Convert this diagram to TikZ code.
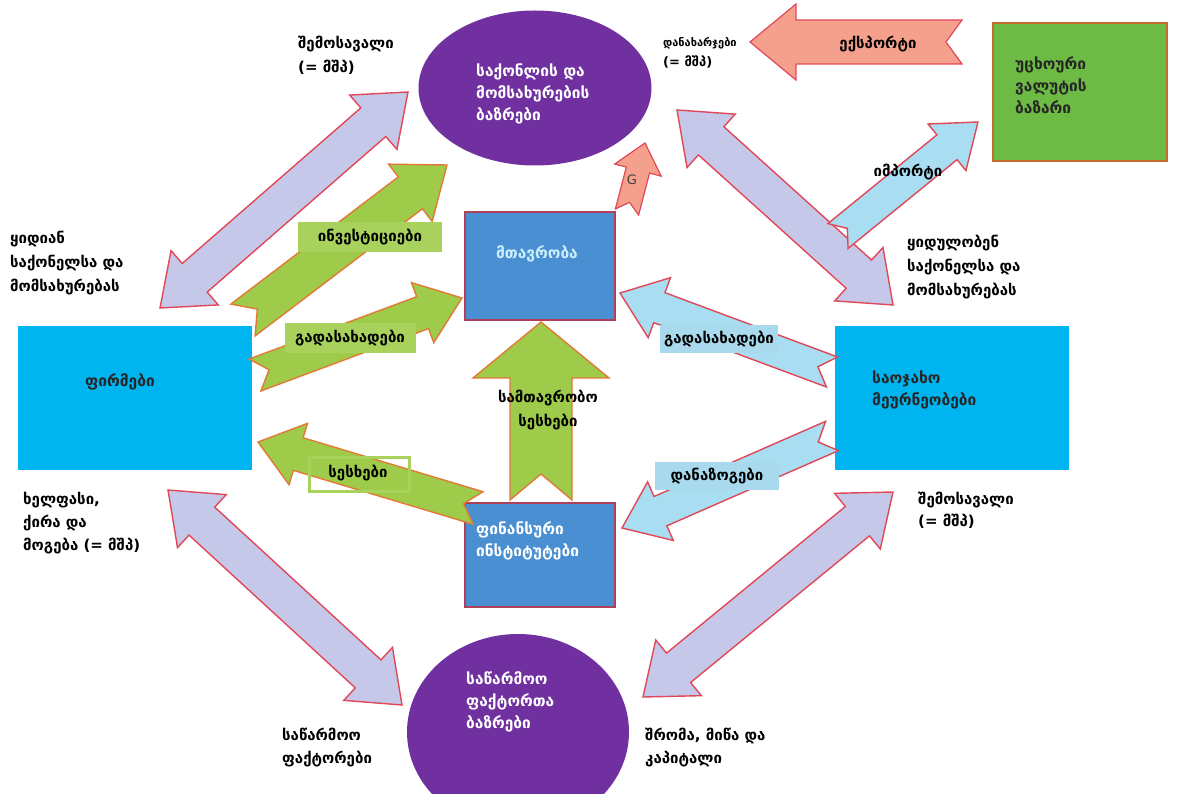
\documentclass[tikz,border=0pt]{standalone}
\usepackage{fontspec}
\setmainfont{DejaVu Sans}
\usetikzlibrary{calc,shapes.geometric}
\definecolor{mpurple}{HTML}{7030A0}
\definecolor{mcyan}{HTML}{00B4F0}
\definecolor{govblue}{HTML}{4A8FD2}
\definecolor{govborder}{HTML}{B0405A}
\definecolor{fxgreen}{HTML}{6DBA45}
\definecolor{fxborder}{HTML}{C46A2A}
\definecolor{argreen}{HTML}{9ECB4A}
\definecolor{arorange}{HTML}{E07A35}
\definecolor{lavender}{HTML}{C6C8EA}
\definecolor{arred}{HTML}{E04858}
\definecolor{lblue}{HTML}{A8DDF2}
\definecolor{salmon}{HTML}{F5A08C}
\definecolor{lbgreen}{HTML}{A8D25C}
\definecolor{lbblue}{HTML}{A9D9EC}
% double block arrow: #1 A, #2 B, #3 shaft half, #4 head half, #5 head length, #6 style
\newcommand\dblarrow[6]{%
  \coordinate (pA) at ($(#1)!#5!(#2)$);
  \coordinate (pB) at ($(#2)!#5!(#1)$);
  \draw[#6] (#1) -- ($(pA)!#4!90:(#2)$) -- ($(pA)!#3!90:(#2)$) -- ($(pB)!#3!-90:(#1)$) -- ($(pB)!#4!-90:(#1)$) -- (#2) -- ($(pB)!#4!90:(#1)$) -- ($(pB)!#3!90:(#1)$) -- ($(pA)!#3!-90:(#2)$) -- ($(pA)!#4!-90:(#2)$) -- cycle;
}
% single block arrow with notched tail: #1 tail, #2 tip, #3 shaft half, #4 head half, #5 head length, #6 notch, #7 style
\newcommand\ribarrow[7]{%
  \coordinate (pB) at ($(#2)!#5!(#1)$);
  \draw[#7] ($(#1)!#3!90:(#2)$) -- ($(pB)!#3!-90:(#1)$) -- ($(pB)!#4!-90:(#1)$) -- (#2) -- ($(pB)!#4!90:(#1)$) -- ($(pB)!#3!90:(#1)$) -- ($(#1)!#3!-90:(#2)$) -- ($(#1)!#6!(#2)$) -- cycle;
}
\tikzset{
  lav/.style={fill=lavender, draw=arred, line width=1.4pt, line join=miter},
  grn/.style={fill=argreen, draw=arorange, line width=1.4pt, line join=miter},
  blu/.style={fill=lblue, draw=arred, line width=1.4pt, line join=miter},
  sal/.style={fill=salmon, draw=arred, line width=1.2pt, line join=miter},
  lbl/.style={font=\fontsize{15}{24}\selectfont\bfseries, align=left, anchor=west, inner sep=0pt, text=black},
  intext/.style={font=\fontsize{15.5}{22}\selectfont\bfseries, align=left, inner sep=0pt},
  tagfont/.style={font=\fontsize{15}{16}\selectfont\bfseries},
  greentag/.style={tagfont, fill=lbgreen, minimum height=30pt, inner sep=2pt},
  bluetag/.style={tagfont, fill=lbblue, minimum height=28pt, inner sep=2pt},
}
\begin{document}
\begin{tikzpicture}[x=1pt,y=-1pt]
\useasboundingbox (0,0) rectangle (1179,794);
\fill[white] (0,0) rectangle (1179,794);
% main nodes
\node[ellipse, fill=mpurple, minimum width=233pt, minimum height=155pt, inner sep=0pt] (gm) at (535,88) {};
\node[intext, text=white, anchor=west] (gmt) at (476,94) {საქონლის და\\მომსახურების\\ბაზრები};
\node[ellipse, fill=mpurple, minimum width=222pt, minimum height=196pt, inner sep=0pt] (fm) at (518,732) {};
\node[intext, text=white, anchor=west] (fmt) at (466,702) {საწარმოო\\ფაქტორთა\\ბაზრები};
\node[fill=mcyan, minimum width=234pt, minimum height=144pt, inner sep=0pt] (firm) at (135,398) {};
\node[intext, text=black!85] at (120,382) {ფირმები};
\node[fill=mcyan, minimum width=234pt, minimum height=144pt, inner sep=0pt] (hh) at (952,398) {};
\node[intext, text=black!85, anchor=west] at (872,390) {საოჯახო\\მეურნეობები};
\node[fill=govblue, draw=govborder, line width=1.6pt, minimum width=150pt, minimum height=108pt, inner sep=0pt] (gov) at (540,266) {};
\node[intext, text=cyan!20] at (537,254) {მთავრობა};
\node[fill=govblue, draw=govborder, line width=1.6pt, minimum width=150pt, minimum height=104pt, inner sep=0pt] (fin) at (540,555) {};
\node[intext, text=white, anchor=west] at (476,541) {ფინანსური\\ინსტიტუტები};
\node[fill=fxgreen, draw=fxborder, line width=2pt, minimum width=174pt, minimum height=138pt, inner sep=0pt] (fx) at (1080,92) {};
\node[intext, text=black!85, anchor=west] at (1015,85) {უცხოური\\ვალუტის\\ბაზარი};
% arrow end coordinates
\coordinate (l1a) at (160,308); \coordinate (l1b) at (408,92);
\coordinate (l2a) at (677,110); \coordinate (l2b) at (893,305);
\coordinate (l3a) at (168,490); \coordinate (l3b) at (402,705);
\coordinate (l4a) at (643,697); \coordinate (l4b) at (893,492);
\coordinate (g1a) at (243,320); \coordinate (g1b) at (447,165);
\coordinate (g2a) at (255,375); \coordinate (g2b) at (462,298);
\coordinate (g3a) at (478,508); \coordinate (g3b) at (258,442);
\coordinate (g4a) at (541,500); \coordinate (g4b) at (541,322);
\coordinate (b1a) at (832,372); \coordinate (b1b) at (620,293);
\coordinate (b2a) at (832,436); \coordinate (b2b) at (622,528);
\coordinate (b3a) at (838,236); \coordinate (b3b) at (978,122);
\coordinate (s1a) at (962,42); \coordinate (s1b) at (750,42);
\coordinate (s2a) at (627,212); \coordinate (s2b) at (645,143);
% lavender double arrows
\dblarrow{l1a}{l1b}{19pt}{36pt}{46pt}{lav}
\dblarrow{l2a}{l2b}{19pt}{36pt}{46pt}{lav}
\dblarrow{l3a}{l3b}{19pt}{36pt}{46pt}{lav}
\dblarrow{l4a}{l4b}{19pt}{36pt}{46pt}{lav}
% green arrows
\ribarrow{g1a}{g1b}{20pt}{36pt}{46pt}{18pt}{grn}
\ribarrow{g2a}{g2b}{17pt}{32pt}{42pt}{15pt}{grn}
\ribarrow{g3a}{g3b}{17pt}{32pt}{42pt}{15pt}{grn}
\ribarrow{g4a}{g4b}{31pt}{68pt}{56pt}{26pt}{grn}
% light blue arrows
\ribarrow{b1a}{b1b}{16pt}{32pt}{42pt}{15pt}{blu}
\ribarrow{b2a}{b2b}{16pt}{32pt}{42pt}{15pt}{blu}
\ribarrow{b3a}{b3b}{16pt}{30pt}{40pt}{12pt}{blu}
% salmon arrows
\ribarrow{s1a}{s1b}{22pt}{38pt}{46pt}{16pt}{sal}
\ribarrow{s2a}{s2b}{12pt}{24pt}{28pt}{10pt}{sal}
\node[font=\fontsize{13}{15}\selectfont, text=black!75] at (632,180) {G};
% arrow tags
\node[greentag, minimum width=144pt] (tinv) at (370,237) {ინვესტიციები};
\node[greentag, minimum width=131pt] (ttax1) at (350,338) {გადასახადები};
\node[draw=lbgreen, line width=3pt, minimum width=100pt, minimum height=34pt, inner sep=0pt] (tloan) at (359,474) {};
\node[tagfont] at (358,473) {სესხები};
\node[bluetag, minimum width=118pt] (ttax2) at (719,339) {გადასახადები};
\node[bluetag, minimum width=124pt] (tsav) at (717,476) {დანაზოგები};
\node[font=\fontsize{15}{24}\selectfont\bfseries, align=center] at (548,410) {სამთავრობო\\სესხები};
\node[tagfont] at (878,44) {ექსპორტი};
\node[tagfont] at (908,172) {იმპორტი};
% free labels
\node[lbl] at (298,55) {შემოსავალი\\(= მშპ)};
\node[lbl, font=\fontsize{13}{20}\selectfont\bfseries] at (663,53) {{\fontsize{11}{13}\selectfont დანახარჯები}\\(= მშპ)};
\node[lbl] at (10,263) {ყიდიან\\საქონელსა და\\მომსახურებას};
\node[lbl] at (907,267) {ყიდულობენ\\საქონელსა და\\მომსახურებას};
\node[lbl, font=\fontsize{15}{23}\selectfont\bfseries] at (23,523) {ხელფასი,\\ქირა და\\მოგება (= მშპ)};
\node[lbl, font=\fontsize{15}{22}\selectfont\bfseries] at (918,510) {შემოსავალი\\(= მშპ)};
\node[lbl, font=\fontsize{15}{23}\selectfont\bfseries] at (282,748) {საწარმოო\\ფაქტორები};
\node[lbl, font=\fontsize{15}{23}\selectfont\bfseries] at (645,748) {შრომა, მიწა და\\კაპიტალი};
\end{tikzpicture}
\end{document}
